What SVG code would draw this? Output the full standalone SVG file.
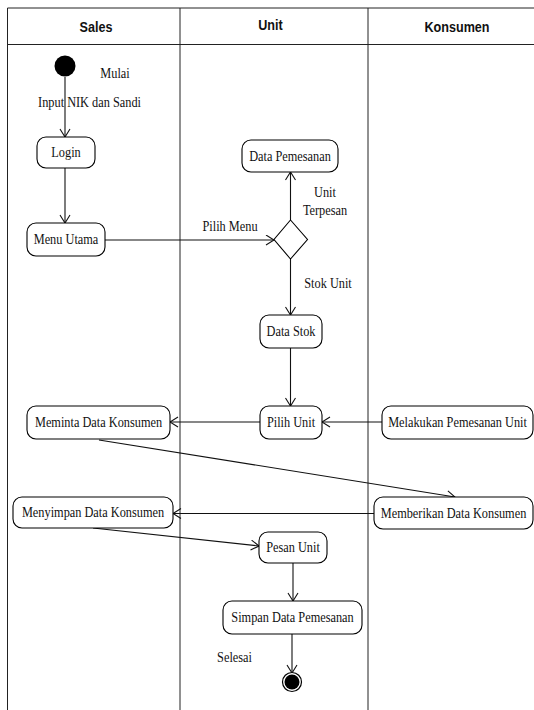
<svg xmlns="http://www.w3.org/2000/svg" width="534" height="710" viewBox="0 0 534 710">
<style>
.lane{fill:none;stroke:#222;stroke-width:1}
.hdr{font-family:"Liberation Sans",Arial,sans-serif;font-weight:bold;font-size:14px;fill:#111;text-anchor:middle;dominant-baseline:central;transform-box:fill-box;transform-origin:center;transform:scaleX(0.9)}
.box{fill:#fff;stroke:#000;stroke-width:1.1}
.t{font-family:"Liberation Serif","Times New Roman",serif;font-size:14px;fill:#111;text-anchor:middle;dominant-baseline:central;transform-box:fill-box;transform-origin:center;transform:scaleX(0.88)}
.c{fill:none;stroke:#111;stroke-width:1.1;marker-end:url(#arr)}
</style>
<defs>
<marker id="arr" markerWidth="10" markerHeight="12" refX="9" refY="5.5" orient="auto" markerUnits="userSpaceOnUse">
<path d="M1,0.5 L9,5.5 L1,10.5" fill="none" stroke="#111" stroke-width="1.1"/>
</marker>
</defs>
<rect width="534" height="710" fill="#fff"/>
<g id="lanes">
<line class="lane" x1="7.5" y1="8" x2="534" y2="8" stroke-width="1.3"/>
<line class="lane" x1="7.5" y1="44.5" x2="534" y2="44.5" stroke="#555" stroke-width="1.5"/>
<line class="lane" x1="7.5" y1="8" x2="7.5" y2="710"/>
<line class="lane" x1="180" y1="8" x2="180" y2="710"/>
<line class="lane" x1="368" y1="8" x2="368" y2="710"/>
<text class="hdr" x="96" y="27">Sales</text>
<text class="hdr" x="270.5" y="25">Unit</text>
<text class="hdr" x="457" y="27">Konsumen</text>
</g>
<g id="connectors">
<line class="c" x1="65" y1="77" x2="65" y2="137"/>
<line class="c" x1="65" y1="168" x2="65" y2="223"/>
<line class="c" x1="105" y1="240" x2="274" y2="240"/>
<line class="c" x1="290.5" y1="220" x2="290.5" y2="172"/>
<line class="c" x1="290.5" y1="259" x2="290.5" y2="315"/>
<line class="c" x1="290.5" y1="348" x2="290.5" y2="406"/>
<line class="c" x1="260" y1="422" x2="170" y2="422"/>
<line class="c" x1="382" y1="422" x2="322" y2="422"/>
<line class="c" x1="99" y1="440" x2="455" y2="497"/>
<line class="c" x1="374" y1="513.5" x2="173" y2="513.5"/>
<line class="c" x1="93" y1="528" x2="259" y2="546"/>
<line class="c" x1="293" y1="563" x2="293" y2="601"/>
<line class="c" x1="292" y1="634" x2="292" y2="673"/>
<text class="t" x="89.5" y="102">Input NIK dan Sandi</text>
<text class="t" x="230" y="226">Pilih Menu</text>
<text class="t" x="325" y="192">Unit</text>
<text class="t" x="325" y="210">Terpesan</text>
<text class="t" x="328" y="283">Stok Unit</text>
<text class="t" x="234.5" y="657">Selesai</text>
</g>
<g id="start">
<circle cx="65" cy="66" r="10.5" fill="#000"/>
<text class="t" x="115" y="73">Mulai</text>
</g>
<g id="login">
<rect class="box" x="37" y="137" width="58" height="31" rx="9"/>
<text class="t" x="66" y="152.5">Login</text>
</g>
<g id="menu-utama">
<rect class="box" x="27" y="223" width="78" height="33" rx="9"/>
<text class="t" x="66" y="239.5">Menu Utama</text>
</g>
<g id="decision">
<polygon points="290.5,220 307.5,239.5 290.5,259 274,239.5" fill="#fff" stroke="#000" stroke-width="1.1"/>
</g>
<g id="data-pemesanan">
<rect class="box" x="242" y="140" width="96" height="32" rx="9"/>
<text class="t" x="290" y="156">Data Pemesanan</text>
</g>
<g id="data-stok">
<rect class="box" x="260" y="315" width="62" height="33" rx="9"/>
<text class="t" x="291" y="331.5">Data Stok</text>
</g>
<g id="pilih-unit">
<rect class="box" x="260" y="406" width="62" height="33" rx="9"/>
<text class="t" x="291" y="422.5">Pilih Unit</text>
</g>
<g id="meminta">
<rect class="box" x="27" y="406" width="143" height="33" rx="9"/>
<text class="t" x="98.5" y="422.5">Meminta Data Konsumen</text>
</g>
<g id="melakukan">
<rect class="box" x="382" y="406" width="151" height="33" rx="9"/>
<text class="t" x="457.5" y="422.5">Melakukan Pemesanan Unit</text>
</g>
<g id="menyimpan">
<rect class="box" x="13" y="497" width="160" height="31" rx="9"/>
<text class="t" x="93" y="512.5">Menyimpan Data Konsumen</text>
</g>
<g id="memberikan">
<rect class="box" x="374" y="497" width="159" height="32" rx="9"/>
<text class="t" x="453.5" y="513">Memberikan Data Konsumen</text>
</g>
<g id="pesan-unit">
<rect class="box" x="259" y="532" width="68" height="31" rx="9"/>
<text class="t" x="293" y="547.5">Pesan Unit</text>
</g>
<g id="simpan">
<rect class="box" x="223" y="601" width="139" height="33" rx="9"/>
<text class="t" x="292.5" y="617.5">Simpan Data Pemesanan</text>
</g>
<g id="end">
<circle cx="292" cy="682" r="9.5" fill="#fff" stroke="#000" stroke-width="1.2"/>
<circle cx="292" cy="682" r="7.5" fill="#000"/>
</g>
</svg>
